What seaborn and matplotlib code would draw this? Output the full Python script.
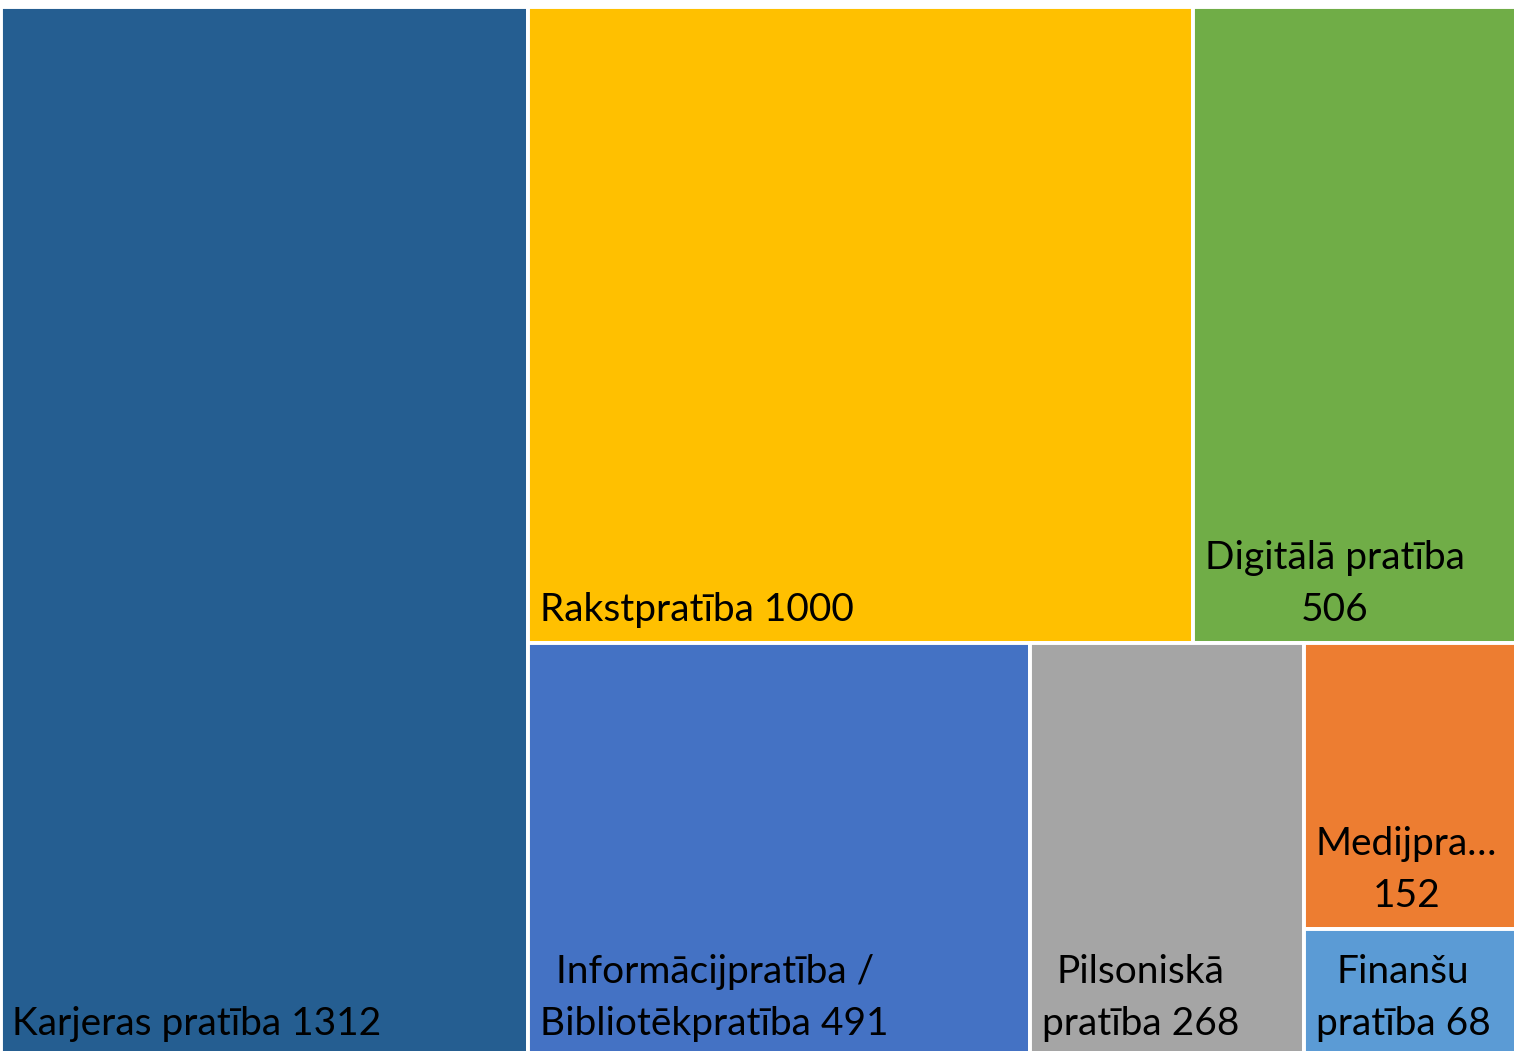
import matplotlib
matplotlib.use("Agg")
import matplotlib.pyplot as plt
from matplotlib.patches import Rectangle
import seaborn as sns

# ---- data ----
categories = ["Karjeras pratība", "Rakstpratība", "Digitālā pratība",
              "Informācijpratība / Bibliotēkpratība", "Pilsoniskā pratība",
              "Medijpratība", "Finanšu pratība"]
values = [1312, 1000, 506, 491, 268, 152, 68]
labels = ["Karjeras pratība 1312", "Rakstpratība 1000", "Digitālā pratība\n506",
          "Informācijpratība /\nBibliotēkpratība 491", "Pilsoniskā\npratība 268",
          "Medijpra…\n152", "Finanšu\npratība 68"]
colors = ["#255E91", "#FFC000", "#70AD47", "#4472C4", "#A5A5A5", "#ED7D31", "#5B9BD5"]

sns.set_theme(style="white")
plt.rcParams['font.family'] = ['Lato', 'DejaVu Sans']


def squarify(vals, x, y, w, h):
    total = float(sum(vals))
    areas = [v * w * h / total for v in vals]
    rects = []

    def worst(row, side):
        s = sum(row)
        return max(max(side * side * r / (s * s), s * s / (side * side * r)) for r in row)

    def layout(areas, x, y, w, h):
        if not areas:
            return
        side = min(w, h)
        row = [areas[0]]
        i = 1
        while i < len(areas) and worst(row + [areas[i]], side) <= worst(row, side):
            row.append(areas[i])
            i += 1
        s = sum(row)
        if w >= h:
            cw = s / h
            yy = y
            for a in row:
                rh = a / cw
                rects.append((x, yy, cw, rh))
                yy += rh
            layout(areas[i:], x + cw, y, w - cw, h)
        else:
            rh = s / w
            xx = x
            for a in row:
                rw = a / rh
                rects.append((xx, y, rw, rh))
                xx += rw
            layout(areas[i:], x, y + rh, w, h - rh)

    layout(areas, x, y, w, h)
    return rects


W_PX, H_PX = 1514, 1051
fig = plt.figure(figsize=(W_PX / 100, H_PX / 100), dpi=100)
ax = fig.add_axes([0, 0, 1, 1])
ax.set_xlim(0, W_PX)
ax.set_ylim(H_PX, 0)
ax.axis("off")

rects = squarify(values, 0.5, 6.5, 1528, 1050)
for (x, y, w, h), col, lab in zip(rects, colors, labels):
    ax.add_patch(Rectangle((x, y), w, h, facecolor=col, edgecolor="white", linewidth=2.8))
    ax.annotate(lab, xy=(x, y + h), xytext=(12, 15), textcoords="offset pixels",
                ha="left", va="bottom", multialignment="center",
                fontsize=28, color="black", linespacing=1.55,
                annotation_clip=False)

fig.savefig("out.png", dpi=100)
